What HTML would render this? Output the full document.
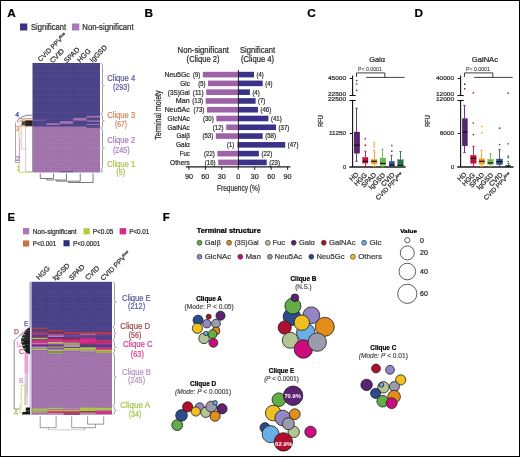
<!DOCTYPE html>
<html><head><meta charset="utf-8"><style>
html,body{margin:0;padding:0;background:#fff;}
body{width:520px;height:457px;overflow:hidden;}
svg{display:block;font-family:"Liberation Sans", sans-serif;}
.wrap{position:absolute;left:0;top:0;width:520px;height:457px;will-change:transform;}
</style></head><body>
<div class="wrap"><svg width="520" height="457" viewBox="0 0 520 457">
<rect x="0" y="0" width="520" height="457" fill="#fff"/>
<text x="7.3" y="17" font-size="11.8" fill="#000" stroke="#000" stroke-width="0.22" font-weight="bold" >A</text>
<text x="144.5" y="17" font-size="11.8" fill="#000" stroke="#000" stroke-width="0.22" font-weight="bold" >B</text>
<text x="307.3" y="17" font-size="11.8" fill="#000" stroke="#000" stroke-width="0.22" font-weight="bold" >C</text>
<text x="414.6" y="17" font-size="11.8" fill="#000" stroke="#000" stroke-width="0.22" font-weight="bold" >D</text>
<text x="7.5" y="220.8" font-size="11.3" fill="#000" stroke="#000" stroke-width="0.22" font-weight="bold" >E</text>
<text x="162.7" y="220.8" font-size="11.3" fill="#000" stroke="#000" stroke-width="0.22" font-weight="bold" >F</text>
<rect x="20" y="23.5" width="7.3" height="7" fill="#3b3288" />
<text x="31" y="29.8" font-size="8.5" fill="#2b2b2b" stroke="#2b2b2b" stroke-width="0.22" textLength="35" lengthAdjust="spacingAndGlyphs" >Significant</text>
<rect x="72" y="23.5" width="7.3" height="7" fill="#a878b8" />
<text x="82.3" y="29.8" font-size="8.5" fill="#2b2b2b" stroke="#2b2b2b" stroke-width="0.22" textLength="51.3" lengthAdjust="spacingAndGlyphs" >Non-significant</text>
<rect x="32.8" y="63" width="67.2" height="109.19999999999999" fill="#473f86" />
<rect x="32.8" y="126.5" width="67.2" height="45.69999999999999" fill="#a071aa" />
<rect x="32.8" y="119.8" width="13.440000000000001" height="0.7" fill="#a071aa" />
<rect x="46.239999999999995" y="123.2" width="13.440000000000001" height="1.8" fill="#a071aa" />
<rect x="59.68" y="121.1" width="13.440000000000001" height="2.8" fill="#a071aa" />
<rect x="73.12" y="117.9" width="13.440000000000001" height="2.8" fill="#a071aa" />
<rect x="86.56" y="115.8" width="13.440000000000001" height="1.8" fill="#a071aa" />
<rect x="86.56" y="120.4" width="13.440000000000001" height="1.4" fill="#a071aa" />
<rect x="86.56" y="123.9" width="13.440000000000001" height="1.1" fill="#a071aa" />
<rect x="86.56" y="126.5" width="13.440000000000001" height="1.3" fill="#473f86" />
<rect x="59.68" y="171.3" width="13.440000000000001" height="0.9" fill="#5a4f9a" />
<defs><pattern id="rowsA" x="0" y="0" width="10" height="2.4" patternUnits="userSpaceOnUse"><rect x="0" y="1.4" width="10" height="1" fill="#ffffff" opacity="0.06"/></pattern></defs>
<rect x="32.8" y="63" width="67.2" height="109.19999999999999" fill="url(#rowsA)" />
<line x1="46.24" y1="63" x2="46.24" y2="172.2" stroke="#000" stroke-width="0.5" opacity="0.06"/>
<line x1="59.68" y1="63" x2="59.68" y2="172.2" stroke="#000" stroke-width="0.5" opacity="0.06"/>
<line x1="73.12" y1="63" x2="73.12" y2="172.2" stroke="#000" stroke-width="0.5" opacity="0.06"/>
<line x1="86.56" y1="63" x2="86.56" y2="172.2" stroke="#000" stroke-width="0.5" opacity="0.06"/>
<line x1="32.5" y1="63" x2="32.5" y2="172.2" stroke="#8a8a8a" stroke-width="0.7" />
<text x="40.6" y="62" font-size="6.7" fill="#2b2b2b" stroke="#2b2b2b" stroke-width="0.22" transform="rotate(-45 40.6 62)" >CVID PPV<tspan font-size="4.1" dy="-2.5">low</tspan></text>
<text x="52.7" y="63.5" font-size="7.1" fill="#2b2b2b" stroke="#2b2b2b" stroke-width="0.22" transform="rotate(-45 52.7 63.5)" >CVID</text>
<text x="66.8" y="63.5" font-size="7.1" fill="#2b2b2b" stroke="#2b2b2b" stroke-width="0.22" transform="rotate(-45 66.8 63.5)" >SPAD</text>
<text x="80" y="62.9" font-size="7.1" fill="#2b2b2b" stroke="#2b2b2b" stroke-width="0.22" transform="rotate(-45 80 62.9)" >HGG</text>
<text x="92.5" y="63" font-size="7.1" fill="#2b2b2b" stroke="#2b2b2b" stroke-width="0.22" transform="rotate(-45 92.5 63)" >IgGSD</text>
<path d="M100.8,63.599999999999994 c1,0 1.7,0.5 1.7,1.7 V84.3 c0,0.8 0.6,1.2 1.8,1.2 c-1.2,0 -1.8,0.4 -1.8,1.2 V112 c0,1.2 -0.7,1.7 -1.7,1.7" stroke="#8c8c8c" stroke-width="0.85" fill="none" />
<path d="M100.8,114.5 c1,0 1.7,0.5 1.7,1.7 V119.6 c0,0.8 0.6,1.2 1.8,1.2 c-1.2,0 -1.8,0.4 -1.8,1.2 V126.30000000000001 c0,1.2 -0.7,1.7 -1.7,1.7" stroke="#8c8c8c" stroke-width="0.85" fill="none" />
<path d="M100.8,128.8 c1,0 1.7,0.5 1.7,1.7 V146.8 c0,0.8 0.6,1.2 1.8,1.2 c-1.2,0 -1.8,0.4 -1.8,1.2 V166.6 c0,1.2 -0.7,1.7 -1.7,1.7" stroke="#8c8c8c" stroke-width="0.85" fill="none" />
<path d="M100.8,169 c0.8,0 1.2,0.5 1.2,1.3 V171.5 c0,0.5 -0.4,0.7 -1.2,0.7" stroke="#666" stroke-width="0.8" fill="none" />
<text x="107.2" y="81" font-size="8.6" fill="#5b56a3" stroke="#5b56a3" stroke-width="0.22" textLength="28" lengthAdjust="spacingAndGlyphs" >Clique 4</text>
<text x="112.9" y="90.1" font-size="8.6" fill="#5b56a3" stroke="#5b56a3" stroke-width="0.22" textLength="16.7" lengthAdjust="spacingAndGlyphs" >(293)</text>
<text x="107.2" y="118.2" font-size="8.6" fill="#d0865c" stroke="#d0865c" stroke-width="0.22" textLength="28" lengthAdjust="spacingAndGlyphs" >Clique 3</text>
<text x="115" y="126.8" font-size="8.6" fill="#d0865c" stroke="#d0865c" stroke-width="0.22" textLength="12" lengthAdjust="spacingAndGlyphs" >(67)</text>
<text x="107.2" y="143.1" font-size="8.6" fill="#a57bbd" stroke="#a57bbd" stroke-width="0.22" textLength="28" lengthAdjust="spacingAndGlyphs" >Clique 2</text>
<text x="112.9" y="152.7" font-size="8.6" fill="#a57bbd" stroke="#a57bbd" stroke-width="0.22" textLength="16.7" lengthAdjust="spacingAndGlyphs" >(245)</text>
<text x="107.2" y="166.6" font-size="8.6" fill="#aac24a" stroke="#aac24a" stroke-width="0.22" textLength="28" lengthAdjust="spacingAndGlyphs" >Clique 1</text>
<text x="116.3" y="174.7" font-size="8.6" fill="#aac24a" stroke="#aac24a" stroke-width="0.22" textLength="9" lengthAdjust="spacingAndGlyphs" >(5)</text>
<path d="M19.4,138.5 V162.6" stroke="#a070c0" stroke-width="0.7" fill="none" />
<path d="M25.6,149 V171.5 H32.6" stroke="#c8aedc" stroke-width="0.7" fill="none" />
<path d="M19,124 V138.5" stroke="#dca887" stroke-width="0.7" fill="none" />
<path d="M21.2,124 V149 H25.6 V124" stroke="#dca887" stroke-width="0.7" fill="none" />
<path d="M15.5,122.5 V162.6 H19" stroke="#888" stroke-width="0.75" fill="none" />
<path d="M19,162.6 V172.2 H32.6" stroke="#b7cf3f" stroke-width="0.8" fill="none" />
<rect x="21.6" y="121.2" width="3.6" height="4.2" fill="#4a4a4a" />
<rect x="25.2" y="120.2" width="7.4" height="6.0" fill="#1a1a1a" />
<line x1="19.5" y1="118.6" x2="32.6" y2="118.6" stroke="#d8935f" stroke-width="0.7" />
<line x1="19.5" y1="120.2" x2="32.6" y2="120.2" stroke="#d8935f" stroke-width="0.7" />
<line x1="19.5" y1="126.2" x2="32.6" y2="126.2" stroke="#d8935f" stroke-width="0.7" />
<line x1="25.2" y1="123.3" x2="32.6" y2="123.3" stroke="#6b4a3a" stroke-width="0.5" />
<path d="M32.6,118.6 H26 L24.5,119.6 H22.5 L21,121 H19.5 L18.2,123.2" stroke="#d8935f" stroke-width="0.7" fill="none" />
<path d="M32.6,115.3 H25.6 L24,116.6 H22.4 L20.8,118.2 H19.3 L17.3,120.8 V122" stroke="#4f46a0" stroke-width="0.75" fill="none" />
<text x="15.2" y="117" font-size="7.0" fill="#4f46a0" stroke="#4f46a0" stroke-width="0.25" >4</text>
<text x="15.4" y="130.6" font-size="6.6" fill="#d0865c" stroke="#d0865c" stroke-width="0.15" >3</text>
<text x="15.8" y="161.3" font-size="7.4" fill="#9a6ab5" stroke="#9a6ab5" stroke-width="0.2" >2</text>
<text x="16.4" y="171" font-size="6.6" fill="#aac24a" stroke="#aac24a" stroke-width="0.15" >1</text>
<path d="M40.25,173.5 V178.5 H53.5 V173.5 M46.9,178.5 V180 H66.5 V173.5 M56.7,180 V181.2 H80.25 V173.5 M68.5,181.2 V182.5 H93.1 V173.5" stroke="#444" stroke-width="0.7" fill="none" />
<text x="177.6" y="53.2" font-size="8.4" fill="#2b2b2b" stroke="#2b2b2b" stroke-width="0.22" textLength="51.3" lengthAdjust="spacingAndGlyphs" >Non-significant</text>
<text x="186.6" y="62" font-size="8.4" fill="#2b2b2b" stroke="#2b2b2b" stroke-width="0.22" textLength="33" lengthAdjust="spacingAndGlyphs" >(Clique 2)</text>
<text x="240" y="53.2" font-size="8.4" fill="#2b2b2b" stroke="#2b2b2b" stroke-width="0.22" textLength="35" lengthAdjust="spacingAndGlyphs" >Significant</text>
<text x="241" y="62" font-size="8.4" fill="#2b2b2b" stroke="#2b2b2b" stroke-width="0.22" textLength="33" lengthAdjust="spacingAndGlyphs" >(Clique 4)</text>
<rect x="202.8" y="71.8" width="35.599999999999994" height="5.6" fill="#9e62a8" />
<rect x="238.4" y="71.8" width="15.599999999999994" height="5.6" fill="#3a3288" />
<text x="189.8" y="77.0" font-size="7.1" fill="#2b2b2b" stroke="#2b2b2b" stroke-width="0.22" text-anchor="end" textLength="25.4" lengthAdjust="spacingAndGlyphs" >Neu5Gc</text>
<text x="200.20000000000002" y="77.0" font-size="7.1" fill="#2b2b2b" stroke="#2b2b2b" stroke-width="0.22" text-anchor="end" textLength="7.2" lengthAdjust="spacingAndGlyphs" >(9)</text>
<text x="256.5" y="77.0" font-size="7.1" fill="#2b2b2b" stroke="#2b2b2b" stroke-width="0.22" textLength="7.2" lengthAdjust="spacingAndGlyphs" >(4)</text>
<rect x="208.0" y="80.58" width="30.400000000000006" height="5.6" fill="#9e62a8" />
<rect x="238.4" y="80.58" width="24.299999999999983" height="5.6" fill="#3a3288" />
<text x="189.8" y="85.78" font-size="7.1" fill="#2b2b2b" stroke="#2b2b2b" stroke-width="0.22" text-anchor="end" textLength="9.5" lengthAdjust="spacingAndGlyphs" >Glc</text>
<text x="205.4" y="85.78" font-size="7.1" fill="#2b2b2b" stroke="#2b2b2b" stroke-width="0.22" text-anchor="end" textLength="7.2" lengthAdjust="spacingAndGlyphs" >(5)</text>
<text x="265.2" y="85.78" font-size="7.1" fill="#2b2b2b" stroke="#2b2b2b" stroke-width="0.22" textLength="7.2" lengthAdjust="spacingAndGlyphs" >(4)</text>
<rect x="206.2" y="89.36" width="32.20000000000002" height="5.6" fill="#9e62a8" />
<rect x="238.4" y="89.36" width="11.5" height="5.6" fill="#3a3288" />
<text x="189.8" y="94.56" font-size="7.1" fill="#2b2b2b" stroke="#2b2b2b" stroke-width="0.22" text-anchor="end" textLength="22" lengthAdjust="spacingAndGlyphs" >(3S)Gal</text>
<text x="203.6" y="94.56" font-size="7.1" fill="#2b2b2b" stroke="#2b2b2b" stroke-width="0.22" text-anchor="end" textLength="10.8" lengthAdjust="spacingAndGlyphs" >(11)</text>
<text x="252.4" y="94.56" font-size="7.1" fill="#2b2b2b" stroke="#2b2b2b" stroke-width="0.22" textLength="7.2" lengthAdjust="spacingAndGlyphs" >(4)</text>
<rect x="205.7" y="98.14" width="32.70000000000002" height="5.6" fill="#9e62a8" />
<rect x="238.4" y="98.14" width="17.19999999999999" height="5.6" fill="#3a3288" />
<text x="189.8" y="103.34" font-size="7.1" fill="#2b2b2b" stroke="#2b2b2b" stroke-width="0.22" text-anchor="end" textLength="14" lengthAdjust="spacingAndGlyphs" >Man</text>
<text x="203.1" y="103.34" font-size="7.1" fill="#2b2b2b" stroke="#2b2b2b" stroke-width="0.22" text-anchor="end" textLength="10.8" lengthAdjust="spacingAndGlyphs" >(13)</text>
<text x="258.1" y="103.34" font-size="7.1" fill="#2b2b2b" stroke="#2b2b2b" stroke-width="0.22" textLength="7.2" lengthAdjust="spacingAndGlyphs" >(7)</text>
<rect x="207.0" y="106.92" width="31.400000000000006" height="5.6" fill="#9e62a8" />
<rect x="238.4" y="106.92" width="19.49999999999997" height="5.6" fill="#3a3288" />
<text x="189.8" y="112.12" font-size="7.1" fill="#2b2b2b" stroke="#2b2b2b" stroke-width="0.22" text-anchor="end" textLength="25" lengthAdjust="spacingAndGlyphs" >Neu5Ac</text>
<text x="204.4" y="112.12" font-size="7.1" fill="#2b2b2b" stroke="#2b2b2b" stroke-width="0.22" text-anchor="end" textLength="10.8" lengthAdjust="spacingAndGlyphs" >(73)</text>
<text x="260.4" y="112.12" font-size="7.1" fill="#2b2b2b" stroke="#2b2b2b" stroke-width="0.22" textLength="10.8" lengthAdjust="spacingAndGlyphs" >(46)</text>
<rect x="216.3" y="115.7" width="22.099999999999994" height="5.6" fill="#9e62a8" />
<rect x="238.4" y="115.7" width="29.99999999999997" height="5.6" fill="#3a3288" />
<text x="189.8" y="120.9" font-size="7.1" fill="#2b2b2b" stroke="#2b2b2b" stroke-width="0.22" text-anchor="end" textLength="22.2" lengthAdjust="spacingAndGlyphs" >GlcNAc</text>
<text x="213.70000000000002" y="120.9" font-size="7.1" fill="#2b2b2b" stroke="#2b2b2b" stroke-width="0.22" text-anchor="end" textLength="10.8" lengthAdjust="spacingAndGlyphs" >(30)</text>
<text x="270.9" y="120.9" font-size="7.1" fill="#2b2b2b" stroke="#2b2b2b" stroke-width="0.22" textLength="10.8" lengthAdjust="spacingAndGlyphs" >(41)</text>
<rect x="226.2" y="124.47999999999999" width="12.200000000000017" height="5.6" fill="#9e62a8" />
<rect x="238.4" y="124.47999999999999" width="37.599999999999994" height="5.6" fill="#3a3288" />
<text x="189.8" y="129.67999999999998" font-size="7.1" fill="#2b2b2b" stroke="#2b2b2b" stroke-width="0.22" text-anchor="end" textLength="22.2" lengthAdjust="spacingAndGlyphs" >GalNAc</text>
<text x="223.6" y="129.67999999999998" font-size="7.1" fill="#2b2b2b" stroke="#2b2b2b" stroke-width="0.22" text-anchor="end" textLength="10.8" lengthAdjust="spacingAndGlyphs" >(12)</text>
<text x="278.5" y="129.67999999999998" font-size="7.1" fill="#2b2b2b" stroke="#2b2b2b" stroke-width="0.22" textLength="10.8" lengthAdjust="spacingAndGlyphs" >(37)</text>
<rect x="215.8" y="133.26" width="22.599999999999994" height="5.6" fill="#9e62a8" />
<rect x="238.4" y="133.26" width="24.299999999999983" height="5.6" fill="#3a3288" />
<text x="189.8" y="138.46" font-size="7.1" fill="#2b2b2b" stroke="#2b2b2b" stroke-width="0.22" text-anchor="end" textLength="13.4" lengthAdjust="spacingAndGlyphs" >Gal&#946;</text>
<text x="213.20000000000002" y="138.46" font-size="7.1" fill="#2b2b2b" stroke="#2b2b2b" stroke-width="0.22" text-anchor="end" textLength="10.8" lengthAdjust="spacingAndGlyphs" >(53)</text>
<text x="265.2" y="138.46" font-size="7.1" fill="#2b2b2b" stroke="#2b2b2b" stroke-width="0.22" textLength="10.8" lengthAdjust="spacingAndGlyphs" >(58)</text>
<rect x="237.3" y="142.03999999999996" width="1.0999999999999943" height="5.6" fill="#9e62a8" />
<rect x="238.4" y="142.03999999999996" width="46.79999999999998" height="5.6" fill="#3a3288" />
<text x="189.8" y="147.23999999999998" font-size="7.1" fill="#2b2b2b" stroke="#2b2b2b" stroke-width="0.22" text-anchor="end" textLength="13.8" lengthAdjust="spacingAndGlyphs" >Gal&#945;</text>
<text x="234.3" y="147.23999999999998" font-size="7.1" fill="#2b2b2b" stroke="#2b2b2b" stroke-width="0.22" text-anchor="end" textLength="7.2" lengthAdjust="spacingAndGlyphs" >(1)</text>
<text x="287.7" y="147.23999999999998" font-size="7.1" fill="#2b2b2b" stroke="#2b2b2b" stroke-width="0.22" textLength="10.8" lengthAdjust="spacingAndGlyphs" >(47)</text>
<rect x="217.4" y="150.82" width="21.0" height="5.6" fill="#9e62a8" />
<rect x="238.4" y="150.82" width="20.49999999999997" height="5.6" fill="#3a3288" />
<text x="189.8" y="156.02" font-size="7.1" fill="#2b2b2b" stroke="#2b2b2b" stroke-width="0.22" text-anchor="end" textLength="10" lengthAdjust="spacingAndGlyphs" >Fuc</text>
<text x="214.8" y="156.02" font-size="7.1" fill="#2b2b2b" stroke="#2b2b2b" stroke-width="0.22" text-anchor="end" textLength="10.8" lengthAdjust="spacingAndGlyphs" >(22)</text>
<text x="261.4" y="156.02" font-size="7.1" fill="#2b2b2b" stroke="#2b2b2b" stroke-width="0.22" textLength="10.8" lengthAdjust="spacingAndGlyphs" >(22)</text>
<rect x="218.2" y="159.59999999999997" width="20.200000000000017" height="5.6" fill="#9e62a8" />
<rect x="238.4" y="159.59999999999997" width="28.299999999999983" height="5.6" fill="#3a3288" />
<text x="189.8" y="164.79999999999998" font-size="7.1" fill="#2b2b2b" stroke="#2b2b2b" stroke-width="0.22" text-anchor="end" textLength="19.7" lengthAdjust="spacingAndGlyphs" >Others</text>
<text x="215.6" y="164.79999999999998" font-size="7.1" fill="#2b2b2b" stroke="#2b2b2b" stroke-width="0.22" text-anchor="end" textLength="10.8" lengthAdjust="spacingAndGlyphs" >(16)</text>
<text x="269.2" y="164.79999999999998" font-size="7.1" fill="#2b2b2b" stroke="#2b2b2b" stroke-width="0.22" textLength="10.8" lengthAdjust="spacingAndGlyphs" >(23)</text>
<line x1="238.4" y1="70" x2="238.4" y2="167" stroke="#111" stroke-width="0.9" />
<line x1="185.8" y1="166.9" x2="290.4" y2="166.9" stroke="#1a1a1a" stroke-width="1.3" />
<line x1="188.9" y1="166.9" x2="188.9" y2="169.8" stroke="#1a1a1a" stroke-width="1.0" />
<text x="188.9" y="178.6" font-size="7.2" fill="#2b2b2b" stroke="#2b2b2b" stroke-width="0.22" text-anchor="middle" >90</text>
<line x1="205.35" y1="166.9" x2="205.35" y2="169.8" stroke="#1a1a1a" stroke-width="1.0" />
<text x="205.35" y="178.6" font-size="7.2" fill="#2b2b2b" stroke="#2b2b2b" stroke-width="0.22" text-anchor="middle" >60</text>
<line x1="221.8" y1="166.9" x2="221.8" y2="169.8" stroke="#1a1a1a" stroke-width="1.0" />
<text x="221.8" y="178.6" font-size="7.2" fill="#2b2b2b" stroke="#2b2b2b" stroke-width="0.22" text-anchor="middle" >30</text>
<line x1="238.25" y1="166.9" x2="238.25" y2="169.8" stroke="#1a1a1a" stroke-width="1.0" />
<text x="238.25" y="178.6" font-size="7.2" fill="#2b2b2b" stroke="#2b2b2b" stroke-width="0.22" text-anchor="middle" >0</text>
<line x1="254.7" y1="166.9" x2="254.7" y2="169.8" stroke="#1a1a1a" stroke-width="1.0" />
<text x="254.7" y="178.6" font-size="7.2" fill="#2b2b2b" stroke="#2b2b2b" stroke-width="0.22" text-anchor="middle" >30</text>
<line x1="271.15" y1="166.9" x2="271.15" y2="169.8" stroke="#1a1a1a" stroke-width="1.0" />
<text x="271.15" y="178.6" font-size="7.2" fill="#2b2b2b" stroke="#2b2b2b" stroke-width="0.22" text-anchor="middle" >60</text>
<line x1="287.6" y1="166.9" x2="287.6" y2="169.8" stroke="#1a1a1a" stroke-width="1.0" />
<text x="287.6" y="178.6" font-size="7.2" fill="#2b2b2b" stroke="#2b2b2b" stroke-width="0.22" text-anchor="middle" >90</text>
<text x="217" y="191.2" font-size="9.5" fill="#2b2b2b" stroke="#2b2b2b" stroke-width="0.22" textLength="43" lengthAdjust="spacingAndGlyphs" >Frequency (%)</text>
<text x="160.7" y="139.7" font-size="9.0" fill="#2b2b2b" stroke="#2b2b2b" stroke-width="0.25" textLength="49.3" lengthAdjust="spacingAndGlyphs" transform="rotate(-90 160.7 139.7)" >Terminal moiety</text>
<text x="369.2" y="62.3" font-size="6.6" fill="#2b2b2b" stroke="#2b2b2b" stroke-width="0.22" textLength="15.8" lengthAdjust="spacingAndGlyphs" >Gal&#945;</text>
<text x="358.0" y="71" font-size="4.6" fill="#2b2b2b" stroke="#2b2b2b" stroke-width="0.05" textLength="23.8" lengthAdjust="spacingAndGlyphs" >P&lt; 0.0001</text>
<path d="M356.5,77 V72.9 H384.8 V77.4" stroke="#111" stroke-width="0.8" fill="none" />
<line x1="366.1" y1="77.4" x2="404.6" y2="77.4" stroke="#111" stroke-width="0.8" />
<line x1="352.6" y1="75.4" x2="352.6" y2="95.5" stroke="#111" stroke-width="1.1" />
<line x1="349.8" y1="78.5" x2="352.6" y2="78.5" stroke="#111" stroke-width="1.0" />
<line x1="349.5" y1="95.5" x2="355.70000000000005" y2="95.5" stroke="#111" stroke-width="1.0" />
<line x1="349.5" y1="100.5" x2="355.70000000000005" y2="100.5" stroke="#111" stroke-width="1.0" />
<line x1="352.6" y1="100.5" x2="352.6" y2="167" stroke="#111" stroke-width="1.1" />
<line x1="349.8" y1="133.5" x2="352.6" y2="133.5" stroke="#111" stroke-width="1.0" />
<line x1="349.3" y1="167" x2="405.6" y2="167" stroke="#1a1a1a" stroke-width="1.4" />
<text x="346.1" y="79.9" font-size="6.2" fill="#2b2b2b" stroke="#2b2b2b" stroke-width="0.22" text-anchor="end" textLength="18.1" lengthAdjust="spacingAndGlyphs" >45000</text>
<text x="346.1" y="96.4" font-size="6.2" fill="#2b2b2b" stroke="#2b2b2b" stroke-width="0.22" text-anchor="end" textLength="18.1" lengthAdjust="spacingAndGlyphs" >22500</text>
<text x="346.1" y="101.4" font-size="6.2" fill="#2b2b2b" stroke="#2b2b2b" stroke-width="0.22" text-anchor="end" textLength="18.1" lengthAdjust="spacingAndGlyphs" >22500</text>
<text x="346.1" y="135.4" font-size="6.2" fill="#2b2b2b" stroke="#2b2b2b" stroke-width="0.22" text-anchor="end" textLength="17.2" lengthAdjust="spacingAndGlyphs" >11250</text>
<text x="346.1" y="169.2" font-size="6.2" fill="#2b2b2b" stroke="#2b2b2b" stroke-width="0.22" text-anchor="end" textLength="3.2" lengthAdjust="spacingAndGlyphs" >0</text>
<text x="323.1" y="121" font-size="6.4" fill="#2b2b2b" stroke="#2b2b2b" stroke-width="0.22" text-anchor="middle" textLength="11.6" lengthAdjust="spacingAndGlyphs" transform="rotate(-90 323.1 121)" >RFU</text>
<line x1="356.5" y1="108.2" x2="356.5" y2="132.0" stroke="#55256d" stroke-width="0.9" />
<line x1="356.5" y1="153.3" x2="356.5" y2="161.3" stroke="#55256d" stroke-width="0.9" />
<line x1="355.2" y1="108.2" x2="357.8" y2="108.2" stroke="#55256d" stroke-width="0.8" />
<line x1="355.2" y1="161.3" x2="357.8" y2="161.3" stroke="#55256d" stroke-width="0.8" />
<rect x="354.1" y="132.0" width="5.699999999999989" height="21.30000000000001" fill="#55256d" stroke="#55256d" stroke-width="0.3"/>
<line x1="354.1" y1="145.2" x2="359.8" y2="145.2" stroke="#111" stroke-width="1.2" />
<line x1="365.5" y1="151.2" x2="365.5" y2="157.3" stroke="#c0123e" stroke-width="0.9" />
<line x1="365.5" y1="163.1" x2="365.5" y2="166.5" stroke="#c0123e" stroke-width="0.9" />
<line x1="364.2" y1="151.2" x2="366.8" y2="151.2" stroke="#c0123e" stroke-width="0.8" />
<line x1="364.2" y1="166.5" x2="366.8" y2="166.5" stroke="#c0123e" stroke-width="0.8" />
<rect x="362.6" y="157.3" width="5.399999999999977" height="5.799999999999983" fill="#c0123e" stroke="#c0123e" stroke-width="0.3"/>
<line x1="362.6" y1="161.3" x2="368.0" y2="161.3" stroke="#111" stroke-width="1.2" />
<line x1="374.5" y1="152.0" x2="374.5" y2="159.3" stroke="#f0a020" stroke-width="0.9" />
<line x1="374.5" y1="164.0" x2="374.5" y2="166.5" stroke="#f0a020" stroke-width="0.9" />
<line x1="373.2" y1="152.0" x2="375.8" y2="152.0" stroke="#f0a020" stroke-width="0.8" />
<line x1="373.2" y1="166.5" x2="375.8" y2="166.5" stroke="#f0a020" stroke-width="0.8" />
<rect x="371.2" y="159.3" width="5.800000000000011" height="4.699999999999989" fill="#f0a020" stroke="#f0a020" stroke-width="0.3"/>
<line x1="371.2" y1="161.3" x2="377.0" y2="161.3" stroke="#111" stroke-width="1.2" />
<line x1="382.5" y1="149.2" x2="382.5" y2="158.0" stroke="#6cbc48" stroke-width="0.9" />
<line x1="382.5" y1="165.5" x2="382.5" y2="166.8" stroke="#6cbc48" stroke-width="0.9" />
<line x1="381.2" y1="149.2" x2="383.8" y2="149.2" stroke="#6cbc48" stroke-width="0.8" />
<line x1="381.2" y1="166.8" x2="383.8" y2="166.8" stroke="#6cbc48" stroke-width="0.8" />
<rect x="380.0" y="158.0" width="5.800000000000011" height="7.5" fill="#6cbc48" stroke="#6cbc48" stroke-width="0.3"/>
<line x1="380.0" y1="163.4" x2="385.8" y2="163.4" stroke="#111" stroke-width="1.2" />
<line x1="391.5" y1="155.3" x2="391.5" y2="161.3" stroke="#2f4f92" stroke-width="0.9" />
<line x1="391.5" y1="166.5" x2="391.5" y2="166.8" stroke="#2f4f92" stroke-width="0.9" />
<line x1="390.2" y1="155.3" x2="392.8" y2="155.3" stroke="#2f4f92" stroke-width="0.8" />
<line x1="390.2" y1="166.8" x2="392.8" y2="166.8" stroke="#2f4f92" stroke-width="0.8" />
<rect x="389.1" y="161.3" width="5.399999999999977" height="5.199999999999989" fill="#2f4f92" stroke="#2f4f92" stroke-width="0.3"/>
<line x1="389.1" y1="165.0" x2="394.5" y2="165.0" stroke="#111" stroke-width="1.2" />
<line x1="400.5" y1="151.6" x2="400.5" y2="159.7" stroke="#2e6e4c" stroke-width="0.9" />
<line x1="400.5" y1="166.5" x2="400.5" y2="166.8" stroke="#2e6e4c" stroke-width="0.9" />
<line x1="399.2" y1="151.6" x2="401.8" y2="151.6" stroke="#2e6e4c" stroke-width="0.8" />
<line x1="399.2" y1="166.8" x2="401.8" y2="166.8" stroke="#2e6e4c" stroke-width="0.8" />
<rect x="397.6" y="159.7" width="5.699999999999989" height="6.800000000000011" fill="#2e6e4c" stroke="#2e6e4c" stroke-width="0.3"/>
<line x1="397.6" y1="165.4" x2="403.3" y2="165.4" stroke="#111" stroke-width="1.2" />
<circle cx="356.6" cy="80.5" r="0.85" fill="#55256d"/>
<circle cx="356.6" cy="84.0" r="0.85" fill="#55256d"/>
<circle cx="356.6" cy="90.3" r="0.85" fill="#55256d"/>
<circle cx="365.3" cy="138.7" r="0.85" fill="#c0123e"/>
<circle cx="365.3" cy="145.2" r="0.85" fill="#c0123e"/>
<circle cx="374.1" cy="142.5" r="0.85" fill="#f0a020"/>
<circle cx="374.1" cy="144.3" r="0.85" fill="#f0a020"/>
<circle cx="374.1" cy="146.5" r="0.85" fill="#f0a020"/>
<circle cx="374.1" cy="150.3" r="0.85" fill="#f0a020"/>
<circle cx="391.8" cy="145.5" r="0.85" fill="#2f4f92"/>
<circle cx="391.8" cy="151.2" r="0.85" fill="#2f4f92"/>
<text x="358.9" y="174.9" font-size="6.8" fill="#2b2b2b" stroke="#2b2b2b" stroke-width="0.22" text-anchor="end" transform="rotate(-45 358.9 174.9)" >HD</text>
<text x="367.6" y="175.6" font-size="6.8" fill="#2b2b2b" stroke="#2b2b2b" stroke-width="0.22" text-anchor="end" transform="rotate(-45 367.6 175.6)" >HGG</text>
<text x="376.7" y="175.2" font-size="6.8" fill="#2b2b2b" stroke="#2b2b2b" stroke-width="0.22" text-anchor="end" transform="rotate(-45 376.7 175.2)" >SPAD</text>
<text x="385.8" y="175.6" font-size="6.8" fill="#2b2b2b" stroke="#2b2b2b" stroke-width="0.22" text-anchor="end" transform="rotate(-45 385.8 175.6)" >IgGSD</text>
<text x="395.2" y="175.2" font-size="6.8" fill="#2b2b2b" stroke="#2b2b2b" stroke-width="0.22" text-anchor="end" transform="rotate(-45 395.2 175.2)" >CVID</text>
<text x="403.5" y="175.2" font-size="6.4" fill="#2b2b2b" stroke="#2b2b2b" stroke-width="0.22" text-anchor="end" transform="rotate(-45 403.5 175.2)" >CVID PPV<tspan font-size="4" dy="-2.5">low</tspan></text>
<text x="471.8" y="62.3" font-size="6.6" fill="#2b2b2b" stroke="#2b2b2b" stroke-width="0.22" textLength="26.2" lengthAdjust="spacingAndGlyphs" >GalNAc</text>
<text x="466.0" y="71" font-size="4.6" fill="#2b2b2b" stroke="#2b2b2b" stroke-width="0.05" textLength="23.8" lengthAdjust="spacingAndGlyphs" >P&lt; 0.0001</text>
<path d="M464.5,77 V72.9 H492.8 V77.4" stroke="#111" stroke-width="0.8" fill="none" />
<line x1="474.1" y1="77.4" x2="512.6" y2="77.4" stroke="#111" stroke-width="0.8" />
<line x1="460.6" y1="75.4" x2="460.6" y2="95.5" stroke="#111" stroke-width="1.1" />
<line x1="457.8" y1="78.5" x2="460.6" y2="78.5" stroke="#111" stroke-width="1.0" />
<line x1="457.5" y1="95.5" x2="463.70000000000005" y2="95.5" stroke="#111" stroke-width="1.0" />
<line x1="457.5" y1="100.5" x2="463.70000000000005" y2="100.5" stroke="#111" stroke-width="1.0" />
<line x1="460.6" y1="100.5" x2="460.6" y2="167" stroke="#111" stroke-width="1.1" />
<line x1="457.8" y1="133.5" x2="460.6" y2="133.5" stroke="#111" stroke-width="1.0" />
<line x1="457.3" y1="167" x2="513.6" y2="167" stroke="#1a1a1a" stroke-width="1.4" />
<text x="454.1" y="79.9" font-size="6.2" fill="#2b2b2b" stroke="#2b2b2b" stroke-width="0.22" text-anchor="end" textLength="18.1" lengthAdjust="spacingAndGlyphs" >40000</text>
<text x="454.1" y="96.4" font-size="6.2" fill="#2b2b2b" stroke="#2b2b2b" stroke-width="0.22" text-anchor="end" textLength="18.1" lengthAdjust="spacingAndGlyphs" >12000</text>
<text x="454.1" y="101.4" font-size="6.2" fill="#2b2b2b" stroke="#2b2b2b" stroke-width="0.22" text-anchor="end" textLength="18.1" lengthAdjust="spacingAndGlyphs" >12000</text>
<text x="454.1" y="135.4" font-size="6.2" fill="#2b2b2b" stroke="#2b2b2b" stroke-width="0.22" text-anchor="end" textLength="14.3" lengthAdjust="spacingAndGlyphs" >6000</text>
<text x="454.1" y="169.2" font-size="6.2" fill="#2b2b2b" stroke="#2b2b2b" stroke-width="0.22" text-anchor="end" textLength="3.2" lengthAdjust="spacingAndGlyphs" >0</text>
<text x="429.90000000000003" y="121" font-size="6.4" fill="#2b2b2b" stroke="#2b2b2b" stroke-width="0.22" text-anchor="middle" textLength="11.6" lengthAdjust="spacingAndGlyphs" transform="rotate(-90 429.90000000000003 121)" >RFU</text>
<line x1="464.5" y1="105.4" x2="464.5" y2="118.5" stroke="#55256d" stroke-width="0.9" />
<line x1="464.5" y1="145.9" x2="464.5" y2="152.6" stroke="#55256d" stroke-width="0.9" />
<line x1="463.2" y1="105.4" x2="465.8" y2="105.4" stroke="#55256d" stroke-width="0.8" />
<line x1="463.2" y1="152.6" x2="465.8" y2="152.6" stroke="#55256d" stroke-width="0.8" />
<rect x="462.2" y="118.5" width="5.300000000000011" height="27.400000000000006" fill="#55256d" stroke="#55256d" stroke-width="0.3"/>
<line x1="462.2" y1="132.2" x2="467.5" y2="132.2" stroke="#111" stroke-width="1.2" />
<line x1="473.5" y1="146.3" x2="473.5" y2="155.3" stroke="#c0123e" stroke-width="0.9" />
<line x1="473.5" y1="163.4" x2="473.5" y2="166.5" stroke="#c0123e" stroke-width="0.9" />
<line x1="472.2" y1="146.3" x2="474.8" y2="146.3" stroke="#c0123e" stroke-width="0.8" />
<line x1="472.2" y1="166.5" x2="474.8" y2="166.5" stroke="#c0123e" stroke-width="0.8" />
<rect x="470.5" y="155.3" width="5.699999999999989" height="8.099999999999994" fill="#c0123e" stroke="#c0123e" stroke-width="0.3"/>
<line x1="470.5" y1="158.4" x2="476.2" y2="158.4" stroke="#111" stroke-width="1.2" />
<line x1="481.5" y1="150.3" x2="481.5" y2="158.6" stroke="#f0a020" stroke-width="0.9" />
<line x1="481.5" y1="164.3" x2="481.5" y2="166.5" stroke="#f0a020" stroke-width="0.9" />
<line x1="480.2" y1="150.3" x2="482.8" y2="150.3" stroke="#f0a020" stroke-width="0.8" />
<line x1="480.2" y1="166.5" x2="482.8" y2="166.5" stroke="#f0a020" stroke-width="0.8" />
<rect x="479.0" y="158.6" width="5.699999999999989" height="5.700000000000017" fill="#f0a020" stroke="#f0a020" stroke-width="0.3"/>
<line x1="479.0" y1="161.3" x2="484.7" y2="161.3" stroke="#111" stroke-width="1.2" />
<line x1="490.5" y1="153.7" x2="490.5" y2="159.3" stroke="#6cbc48" stroke-width="0.9" />
<line x1="490.5" y1="164.3" x2="490.5" y2="166.5" stroke="#6cbc48" stroke-width="0.9" />
<line x1="489.2" y1="153.7" x2="491.8" y2="153.7" stroke="#6cbc48" stroke-width="0.8" />
<line x1="489.2" y1="166.5" x2="491.8" y2="166.5" stroke="#6cbc48" stroke-width="0.8" />
<rect x="487.7" y="159.3" width="5.600000000000023" height="5.0" fill="#6cbc48" stroke="#6cbc48" stroke-width="0.3"/>
<line x1="487.7" y1="163.0" x2="493.3" y2="163.0" stroke="#111" stroke-width="1.2" />
<line x1="499.5" y1="149.6" x2="499.5" y2="159.0" stroke="#2f4f92" stroke-width="0.9" />
<line x1="499.5" y1="164.7" x2="499.5" y2="166.5" stroke="#2f4f92" stroke-width="0.9" />
<line x1="498.2" y1="149.6" x2="500.8" y2="149.6" stroke="#2f4f92" stroke-width="0.8" />
<line x1="498.2" y1="166.5" x2="500.8" y2="166.5" stroke="#2f4f92" stroke-width="0.8" />
<rect x="496.4" y="159.0" width="6.100000000000023" height="5.699999999999989" fill="#2f4f92" stroke="#2f4f92" stroke-width="0.3"/>
<line x1="496.4" y1="161.6" x2="502.5" y2="161.6" stroke="#111" stroke-width="1.2" />
<line x1="508.5" y1="163.6" x2="508.5" y2="165.4" stroke="#2e6e4c" stroke-width="0.9" />
<line x1="508.5" y1="166.6" x2="508.5" y2="166.6" stroke="#2e6e4c" stroke-width="0.9" />
<line x1="507.2" y1="163.6" x2="509.8" y2="163.6" stroke="#2e6e4c" stroke-width="0.8" />
<line x1="507.2" y1="166.6" x2="509.8" y2="166.6" stroke="#2e6e4c" stroke-width="0.8" />
<rect x="505.6" y="165.4" width="5.0" height="1.1999999999999886" fill="#2e6e4c" stroke="#2e6e4c" stroke-width="0.3"/>
<line x1="505.6" y1="166.2" x2="510.6" y2="166.2" stroke="#111" stroke-width="1.2" />
<circle cx="464.8" cy="84.2" r="0.85" fill="#55256d"/>
<circle cx="464.8" cy="88.8" r="0.85" fill="#55256d"/>
<circle cx="473.3" cy="92.8" r="0.85" fill="#c0123e"/>
<circle cx="473.3" cy="123.0" r="0.85" fill="#c0123e"/>
<circle cx="473.3" cy="134.6" r="0.85" fill="#c0123e"/>
<circle cx="481.8" cy="126.5" r="0.85" fill="#f0a020"/>
<circle cx="481.8" cy="132.8" r="0.85" fill="#f0a020"/>
<circle cx="499.6" cy="128.2" r="0.85" fill="#2f4f92"/>
<circle cx="499.6" cy="144.5" r="0.85" fill="#2f4f92"/>
<circle cx="508.2" cy="93.2" r="0.85" fill="#2e6e4c"/>
<circle cx="508.2" cy="143.8" r="0.85" fill="#2e6e4c"/>
<circle cx="508.2" cy="156.0" r="0.85" fill="#2e6e4c"/>
<circle cx="508.2" cy="157.4" r="0.85" fill="#2e6e4c"/>
<circle cx="508.2" cy="161.5" r="0.85" fill="#2e6e4c"/>
<text x="466.9" y="174.9" font-size="6.8" fill="#2b2b2b" stroke="#2b2b2b" stroke-width="0.22" text-anchor="end" transform="rotate(-45 466.9 174.9)" >HD</text>
<text x="475.6" y="175.6" font-size="6.8" fill="#2b2b2b" stroke="#2b2b2b" stroke-width="0.22" text-anchor="end" transform="rotate(-45 475.6 175.6)" >HGG</text>
<text x="484.7" y="175.2" font-size="6.8" fill="#2b2b2b" stroke="#2b2b2b" stroke-width="0.22" text-anchor="end" transform="rotate(-45 484.7 175.2)" >SPAD</text>
<text x="493.8" y="175.6" font-size="6.8" fill="#2b2b2b" stroke="#2b2b2b" stroke-width="0.22" text-anchor="end" transform="rotate(-45 493.8 175.6)" >IgGSD</text>
<text x="503.2" y="175.2" font-size="6.8" fill="#2b2b2b" stroke="#2b2b2b" stroke-width="0.22" text-anchor="end" transform="rotate(-45 503.2 175.2)" >CVID</text>
<text x="511.5" y="175.2" font-size="6.4" fill="#2b2b2b" stroke="#2b2b2b" stroke-width="0.22" text-anchor="end" transform="rotate(-45 511.5 175.2)" >CVID PPV<tspan font-size="4" dy="-2.5">low</tspan></text>
<rect x="23" y="228" width="6.2" height="6.4" fill="#a878b8" />
<text x="32.8" y="234" font-size="7.1" fill="#2b2b2b" stroke="#2b2b2b" stroke-width="0.22" textLength="43.8" lengthAdjust="spacingAndGlyphs" >Non-significant</text>
<rect x="83.5" y="228.2" width="6.3" height="6.2" fill="#b3cc3a" />
<text x="92.7" y="234" font-size="7.1" fill="#2b2b2b" stroke="#2b2b2b" stroke-width="0.22" textLength="20.8" lengthAdjust="spacingAndGlyphs" >P&lt;0.05</text>
<rect x="119.6" y="228.2" width="6.6" height="6.2" fill="#d62a8a" />
<text x="129.2" y="234" font-size="7.1" fill="#2b2b2b" stroke="#2b2b2b" stroke-width="0.22" textLength="20.2" lengthAdjust="spacingAndGlyphs" >P&lt;0.01</text>
<rect x="23" y="240.4" width="6.2" height="6.2" fill="#c8743f" />
<text x="32.8" y="246.2" font-size="7.1" fill="#2b2b2b" stroke="#2b2b2b" stroke-width="0.22" textLength="23.4" lengthAdjust="spacingAndGlyphs" >P&lt;0.001</text>
<rect x="63.5" y="240.2" width="6.1" height="6.1" fill="#2f2a80" />
<text x="73" y="246.2" font-size="7.1" fill="#2b2b2b" stroke="#2b2b2b" stroke-width="0.22" textLength="27.4" lengthAdjust="spacingAndGlyphs" >P&lt;0.0001</text>
<rect x="31.6" y="281.8" width="80.4" height="72.19999999999999" fill="#473f86" />
<rect x="31.6" y="354" width="80.4" height="60.69999999999999" fill="#a071aa" />
<rect x="31.6" y="327.7" width="16.08" height="1.3" fill="#b23a3c" />
<rect x="31.6" y="331.5" width="16.08" height="1.2" fill="#a03a40" />
<rect x="31.6" y="332.7" width="16.08" height="1.1" fill="#c83a7a" />
<rect x="31.6" y="333.8" width="16.08" height="1.2" fill="#8a3a9a" />
<rect x="31.6" y="335.8" width="16.08" height="1.2" fill="#8a2a3a" />
<rect x="31.6" y="337.8" width="16.08" height="1.6" fill="#aac83a" />
<rect x="31.6" y="339.4" width="16.08" height="0.8" fill="#5a3a8a" />
<rect x="31.6" y="340.2" width="16.08" height="2.8" fill="#d6288a" />
<rect x="31.6" y="343" width="16.08" height="1.2" fill="#c07a98" />
<rect x="31.6" y="344.2" width="16.08" height="1.2" fill="#b03a9a" />
<rect x="31.6" y="345.4" width="16.08" height="1.1" fill="#4a2a7a" />
<rect x="31.6" y="346.5" width="16.08" height="2.3" fill="#b888c0" />
<rect x="31.6" y="348.8" width="16.08" height="1.4" fill="#aac83a" />
<rect x="31.6" y="350.2" width="16.08" height="3.8" fill="#a071aa" />
<rect x="31.6" y="408" width="16.08" height="0.9" fill="#b08aa8" />
<rect x="31.6" y="408.9" width="16.08" height="1.7" fill="#aac83a" />
<rect x="31.6" y="411.4" width="16.08" height="1.1" fill="#aac83a" />
<rect x="47.68" y="330.2" width="16.08" height="1.3" fill="#b23a3c" />
<rect x="47.68" y="332.7" width="16.08" height="1.5" fill="#8a2a4a" />
<rect x="47.68" y="334.2" width="16.08" height="1.2" fill="#c04a8a" />
<rect x="47.68" y="335.4" width="16.08" height="1.6" fill="#c078b0" />
<rect x="47.68" y="337" width="16.08" height="0.8" fill="#4f3a8c" />
<rect x="47.68" y="337.8" width="16.08" height="1.0" fill="#6a2050" />
<rect x="47.68" y="338.8" width="16.08" height="3.1" fill="#d6288a" />
<rect x="47.68" y="341.9" width="16.08" height="1.1" fill="#aac83a" />
<rect x="47.68" y="343" width="16.08" height="1.2" fill="#c08a90" />
<rect x="47.68" y="344.2" width="16.08" height="1.2" fill="#9a4aa8" />
<rect x="47.68" y="345.4" width="16.08" height="1.1" fill="#4f3a8c" />
<rect x="47.68" y="346.5" width="16.08" height="1.2" fill="#aac83a" />
<rect x="47.68" y="347.7" width="16.08" height="1.1" fill="#a050b0" />
<rect x="47.68" y="348.8" width="16.08" height="1.2" fill="#a071aa" />
<rect x="47.68" y="350" width="16.08" height="1.5" fill="#aac83a" />
<rect x="47.68" y="351.5" width="16.08" height="1.2" fill="#a071aa" />
<rect x="47.68" y="352.7" width="16.08" height="1.1" fill="#aac83a" />
<rect x="47.68" y="407.8" width="16.08" height="1.3" fill="#aac83a" />
<rect x="47.68" y="410" width="16.08" height="1.2" fill="#aac83a" />
<rect x="47.68" y="411.2" width="16.08" height="1.7" fill="#d6288a" />
<rect x="47.68" y="412.9" width="16.08" height="0.8" fill="#c09088" />
<rect x="63.76" y="329" width="16.08" height="0.8" fill="#6a3a7a" />
<rect x="63.76" y="332" width="16.08" height="1.9" fill="#b23a3c" />
<rect x="63.76" y="334.8" width="16.08" height="1.7" fill="#8a3a9a" />
<rect x="63.76" y="337.8" width="16.08" height="2.1" fill="#8a2a4a" />
<rect x="63.76" y="339.9" width="16.08" height="2.6" fill="#d6288a" />
<rect x="63.76" y="342.5" width="16.08" height="0.7" fill="#c07a98" />
<rect x="63.76" y="343.2" width="16.08" height="1.5" fill="#aac83a" />
<rect x="63.76" y="344.7" width="16.08" height="2.6" fill="#b89098" />
<rect x="63.76" y="347.3" width="16.08" height="0.7" fill="#4f3a8c" />
<rect x="63.76" y="348" width="16.08" height="1.9" fill="#aac83a" />
<rect x="63.76" y="349.9" width="16.08" height="1.5" fill="#c08aa8" />
<rect x="63.76" y="351.4" width="16.08" height="2.6" fill="#a071aa" />
<rect x="63.76" y="407.8" width="16.08" height="1.3" fill="#b08a98" />
<rect x="63.76" y="410" width="16.08" height="1.1" fill="#aac83a" />
<rect x="63.76" y="411.4" width="16.08" height="2.1" fill="#c8306a" />
<rect x="63.76" y="413.5" width="16.08" height="1.2" fill="#8a2a40" />
<rect x="79.84" y="332" width="16.08" height="1.8" fill="#b23a3c" />
<rect x="79.84" y="333.8" width="16.08" height="1.0" fill="#c09088" />
<rect x="79.84" y="334.8" width="16.08" height="1.7" fill="#7a3a9a" />
<rect x="79.84" y="337.8" width="16.08" height="1.5" fill="#c8287a" />
<rect x="79.84" y="339.3" width="16.08" height="2.8" fill="#e0268c" />
<rect x="79.84" y="342.1" width="16.08" height="2.2" fill="#c82a6a" />
<rect x="79.84" y="347.3" width="16.08" height="2.6" fill="#aac83a" />
<rect x="79.84" y="349.9" width="16.08" height="1.9" fill="#b890a8" />
<rect x="79.84" y="351.8" width="16.08" height="0.7" fill="#aac83a" />
<rect x="79.84" y="352.5" width="16.08" height="1.5" fill="#a071aa" />
<rect x="79.84" y="407.6" width="16.08" height="3.4" fill="#aac83a" />
<rect x="79.84" y="411" width="16.08" height="0.8" fill="#8a2a4a" />
<rect x="79.84" y="411.8" width="16.08" height="0.9" fill="#d6288a" />
<rect x="79.84" y="412.7" width="16.08" height="1.0" fill="#b0a060" />
<rect x="95.92" y="329" width="16.08" height="0.8" fill="#6a3a7a" />
<rect x="95.92" y="332" width="16.08" height="1.9" fill="#b23a3c" />
<rect x="95.92" y="333.9" width="16.08" height="1.9" fill="#7a3a8a" />
<rect x="95.92" y="335.8" width="16.08" height="1.1" fill="#4f3a8c" />
<rect x="95.92" y="339.9" width="16.08" height="1.1" fill="#c02a6a" />
<rect x="95.92" y="341" width="16.08" height="1.8" fill="#b02a60" />
<rect x="95.92" y="342.8" width="16.08" height="1.5" fill="#d6288a" />
<rect x="95.92" y="347.3" width="16.08" height="2.6" fill="#e0268c" />
<rect x="95.92" y="349.9" width="16.08" height="1.5" fill="#aac83a" />
<rect x="95.92" y="351.4" width="16.08" height="1.5" fill="#a8c040" />
<rect x="95.92" y="352.9" width="16.08" height="1.1" fill="#a071aa" />
<rect x="95.92" y="407.8" width="16.08" height="2.4" fill="#aac83a" />
<rect x="95.92" y="411.4" width="16.08" height="2.6" fill="#d6288a" />
<defs><pattern id="rowsE" x="0" y="0" width="10" height="2.2" patternUnits="userSpaceOnUse"><rect x="0" y="1.3" width="10" height="0.9" fill="#ffffff" opacity="0.05"/></pattern></defs>
<rect x="31.6" y="281.8" width="80.4" height="132.89999999999998" fill="url(#rowsE)" />
<line x1="47.68" y1="281.8" x2="47.68" y2="414.7" stroke="#000" stroke-width="0.5" opacity="0.05"/>
<line x1="63.76" y1="281.8" x2="63.76" y2="414.7" stroke="#000" stroke-width="0.5" opacity="0.05"/>
<line x1="79.84" y1="281.8" x2="79.84" y2="414.7" stroke="#000" stroke-width="0.5" opacity="0.05"/>
<line x1="95.92" y1="281.8" x2="95.92" y2="414.7" stroke="#000" stroke-width="0.5" opacity="0.05"/>
<text x="39.1" y="280.3" font-size="7.1" fill="#2b2b2b" stroke="#2b2b2b" stroke-width="0.22" transform="rotate(-45 39.1 280.3)" >HGG</text>
<text x="55.2" y="281.1" font-size="7.1" fill="#2b2b2b" stroke="#2b2b2b" stroke-width="0.22" transform="rotate(-45 55.2 281.1)" >IgGSD</text>
<text x="71.8" y="280.7" font-size="7.1" fill="#2b2b2b" stroke="#2b2b2b" stroke-width="0.22" transform="rotate(-45 71.8 280.7)" >SPAD</text>
<text x="87.9" y="280.6" font-size="7.1" fill="#2b2b2b" stroke="#2b2b2b" stroke-width="0.22" transform="rotate(-45 87.9 280.6)" >CVID</text>
<text x="103.3" y="281.1" font-size="6.9" fill="#2b2b2b" stroke="#2b2b2b" stroke-width="0.22" transform="rotate(-45 103.3 281.1)" >CVID PPV<tspan font-size="4.2" dy="-2.6">low</tspan></text>
<path d="M112.8,282.3 c1,0 1.7,0.5 1.7,1.7 V300.8 c0,0.8 0.6,1.2 1.8,1.2 c-1.2,0 -1.8,0.4 -1.8,1.2 V325 c0,1.2 -0.7,1.7 -1.7,1.7" stroke="#8c8c8c" stroke-width="0.85" fill="none" />
<path d="M112.8,327.6 c1,0 1.7,0.5 1.7,1.7 V332.2 c0,0.8 0.6,1.2 1.8,1.2 c-1.2,0 -1.8,0.4 -1.8,1.2 V338.2 c0,1.2 -0.7,1.7 -1.7,1.7" stroke="#8c8c8c" stroke-width="0.85" fill="none" />
<path d="M112.8,340.8 c1,0 1.7,0.5 1.7,1.7 V346.2 c0,0.8 0.6,1.2 1.8,1.2 c-1.2,0 -1.8,0.4 -1.8,1.2 V351.5 c0,1.2 -0.7,1.7 -1.7,1.7" stroke="#8c8c8c" stroke-width="0.85" fill="none" />
<path d="M112.8,354.1 c1,0 1.7,0.5 1.7,1.7 V375.90000000000003 c0,0.8 0.6,1.2 1.8,1.2 c-1.2,0 -1.8,0.4 -1.8,1.2 V403.8 c0,1.2 -0.7,1.7 -1.7,1.7" stroke="#8c8c8c" stroke-width="0.85" fill="none" />
<path d="M112.8,406.40000000000003 c1,0 1.7,0.5 1.7,1.7 V409.2 c0,0.8 0.6,1.2 1.8,1.2 c-1.2,0 -1.8,0.4 -1.8,1.2 V412.7 c0,1.2 -0.7,1.7 -1.7,1.7" stroke="#8c8c8c" stroke-width="0.85" fill="none" />
<text x="122" y="300.8" font-size="8.6" fill="#5b56a3" stroke="#5b56a3" stroke-width="0.22" textLength="28.6" lengthAdjust="spacingAndGlyphs" >Clique E</text>
<text x="128.1" y="309.4" font-size="8.6" fill="#5b56a3" stroke="#5b56a3" stroke-width="0.22" textLength="17" lengthAdjust="spacingAndGlyphs" >(212)</text>
<text x="120.3" y="328.7" font-size="8.6" fill="#a24a4e" stroke="#a24a4e" stroke-width="0.22" textLength="29.7" lengthAdjust="spacingAndGlyphs" >Clique D</text>
<text x="128.7" y="337.8" font-size="8.6" fill="#a24a4e" stroke="#a24a4e" stroke-width="0.22" textLength="12.6" lengthAdjust="spacingAndGlyphs" >(56)</text>
<text x="122.9" y="347.4" font-size="8.6" fill="#d63a8e" stroke="#d63a8e" stroke-width="0.22" textLength="29.8" lengthAdjust="spacingAndGlyphs" >Clique C</text>
<text x="130.8" y="357" font-size="8.6" fill="#d63a8e" stroke="#d63a8e" stroke-width="0.22" textLength="13.1" lengthAdjust="spacingAndGlyphs" >(63)</text>
<text x="122" y="374.5" font-size="8.6" fill="#b890c8" stroke="#b890c8" stroke-width="0.22" textLength="28.9" lengthAdjust="spacingAndGlyphs" >Clique B</text>
<text x="128.1" y="383.3" font-size="8.6" fill="#b890c8" stroke="#b890c8" stroke-width="0.22" textLength="17" lengthAdjust="spacingAndGlyphs" >(245)</text>
<text x="120.3" y="407.8" font-size="8.6" fill="#a6c64a" stroke="#a6c64a" stroke-width="0.22" textLength="29.7" lengthAdjust="spacingAndGlyphs" >Clique A</text>
<text x="128.7" y="416.9" font-size="8.6" fill="#a6c64a" stroke="#a6c64a" stroke-width="0.22" textLength="12.6" lengthAdjust="spacingAndGlyphs" >(34)</text>
<rect x="29.4" y="281.8" width="2.2" height="45.6" fill="#b6b1d8"/>
<rect x="29.4" y="327.4" width="2.2" height="87.3" fill="#dcd0e8"/>
<line x1="31.9" y1="281.8" x2="31.9" y2="414.7" stroke="#2a2270" stroke-width="0.5" opacity="0.5"/>
<rect x="24.6" y="351.5" width="3.6" height="21.5" fill="#eab0d4" />
<line x1="25.2" y1="352" x2="25.2" y2="373" stroke="#d880b8" stroke-width="0.5" />
<line x1="27.6" y1="352" x2="27.6" y2="373" stroke="#d880b8" stroke-width="0.5" />
<rect x="24.6" y="373" width="2.0" height="32" fill="#dccbe8" />
<line x1="27.2" y1="373" x2="27.2" y2="395" stroke="#a070c0" stroke-width="0.7" />
<line x1="27.2" y1="395" x2="27.2" y2="406" stroke="#c8b0dc" stroke-width="0.7" />
<polygon points="29.9,327.4 29.0,327.8 27.82,328.6 26.65,329.40000000000003 25.89,330.2 25.2,331.0 24.72,331.8 24.24,332.6 23.79,333.40000000000003 23.36,334.2 22.93,335.0 22.51,335.8 22.16,336.6 21.84,337.40000000000003 21.52,338.2 21.2,339.0 21.12,339.8 21.04,340.6 21.11,341.40000000000003 21.32,342.2 21.53,343.0 21.75,343.8 22.0,344.6 22.27,345.40000000000003 22.53,346.2 22.8,347.0 23.17,347.8 23.55,348.6 23.92,349.40000000000003 24.34,350.2 24.9,351.0 25.46,351.8 26.41,352.6 28,353.40000000000003 29.9,354" fill="#141414"/>
<line x1="25.89" y1="330.2" x2="29.9" y2="330.2" stroke="#a04048" stroke-width="0.5" />
<line x1="24.72" y1="331.8" x2="29.9" y2="331.8" stroke="#2a2a2a" stroke-width="0.5" />
<line x1="24.24" y1="332.6" x2="29.9" y2="332.6" stroke="#a04048" stroke-width="0.5" />
<line x1="22.93" y1="335.0" x2="29.9" y2="335.0" stroke="#555" stroke-width="0.5" />
<line x1="22.16" y1="336.6" x2="29.9" y2="336.6" stroke="#222" stroke-width="0.5" />
<line x1="21.84" y1="337.40000000000003" x2="29.9" y2="337.40000000000003" stroke="#666" stroke-width="0.5" />
<line x1="21.12" y1="339.8" x2="29.9" y2="339.8" stroke="#777" stroke-width="0.5" />
<line x1="21.32" y1="342.2" x2="29.9" y2="342.2" stroke="#444" stroke-width="0.5" />
<line x1="22.0" y1="344.6" x2="29.9" y2="344.6" stroke="#555" stroke-width="0.5" />
<line x1="22.8" y1="347.0" x2="29.9" y2="347.0" stroke="#333" stroke-width="0.5" />
<line x1="23.55" y1="348.6" x2="29.9" y2="348.6" stroke="#222" stroke-width="0.5" />
<line x1="24.34" y1="350.2" x2="29.9" y2="350.2" stroke="#444" stroke-width="0.5" />
<line x1="26.41" y1="352.6" x2="29.9" y2="352.6" stroke="#222" stroke-width="0.5" />
<line x1="23" y1="334.6" x2="25.5" y2="334.6" stroke="#ffffff" stroke-width="0.6" />
<line x1="21.8" y1="337.8" x2="24.5" y2="337.8" stroke="#ffffff" stroke-width="0.6" />
<line x1="21.2" y1="341.8" x2="23.5" y2="341.8" stroke="#ffffff" stroke-width="0.6" />
<line x1="22.4" y1="345.4" x2="25" y2="345.4" stroke="#ffffff" stroke-width="0.6" />
<line x1="23.6" y1="348.8" x2="26" y2="348.8" stroke="#ffffff" stroke-width="0.6" />
<text x="23.9" y="326.1" font-size="6.6" fill="#5b56a3" stroke="#5b56a3" stroke-width="0.25" >E</text>
<text x="14" y="333.9" font-size="6.9" fill="#a85a5a" stroke="#a85a5a" stroke-width="0.25" >D</text>
<text x="19" y="354.2" font-size="6.9" fill="#d63a8e" stroke="#d63a8e" stroke-width="0.25" >C</text>
<text x="19.1" y="383.4" font-size="6.6" fill="#b890c8" stroke="#b890c8" stroke-width="0.2" >B</text>
<text x="13.7" y="415.3" font-size="6.6" fill="#a6c64a" stroke="#a6c64a" stroke-width="0.2" >A</text>
<path d="M29.6,327.4 L27,329 L25,330.5 L23,332.5 L21,334 L19.5,336 L17.5,337.5 L15.5,339.5 L14.2,340.8" stroke="#5b56a3" stroke-width="0.7" fill="none" />
<path d="M28,330.2 L24,333 L21.5,335.5" stroke="#b05a5a" stroke-width="0.6" fill="none" />
<path d="M17.2,341.2 V346.6 H20.5 M22,343.2 Q19.5,343 19.6,345 Q19.8,346.8 22,346.5" stroke="#e060a8" stroke-width="0.65" fill="none" />
<path d="M14.2,340.8 V409.1 H19.6" stroke="#666" stroke-width="0.75" fill="none" />
<path d="M21.2,409 V385.4 H25 V405" stroke="#b7cf5a" stroke-width="0.7" fill="none" />
<path d="M20,404 V412.5 H23" stroke="#b7cf5a" stroke-width="0.7" fill="none" />
<path d="M25.8,407.4 H30 V414.5 H21.6 L23,412 H25.8 Z" fill="#151515"/>
<line x1="22" y1="410.8" x2="30" y2="410.8" stroke="#b7cf5a" stroke-width="0.5" />
<path d="M40.2,416.4 V427.7 H56.1 V416.4 M71.7,416.4 V427.7 H95.6 V424.2 M87.6,416.4 V424.2 H103.7 V416.4" stroke="#555" stroke-width="0.6" fill="none" />
<line x1="48.4" y1="427.7" x2="48.4" y2="429.8" stroke="#888" stroke-width="0.6" />
<line x1="84.7" y1="427.7" x2="84.7" y2="429.8" stroke="#888" stroke-width="0.6" />
<line x1="48.4" y1="429.8" x2="84.7" y2="429.8" stroke="#aaa" stroke-width="0.6" />
<text x="196.8" y="233" font-size="7" fill="#000" stroke="#000" stroke-width="0.22" font-weight="bold" textLength="64" lengthAdjust="spacingAndGlyphs" >Terminal structure</text>
<circle cx="199.5" cy="242.8" r="2.45" fill="#62ad46" stroke="#222" stroke-width="0.6"/>
<text x="204.8" y="245.4" font-size="7.6" fill="#3a3a3a" stroke="#3a3a3a" stroke-width="0.22" textLength="15.9" lengthAdjust="spacingAndGlyphs" >Gal&#946;</text>
<circle cx="229.1" cy="242.8" r="2.45" fill="#e38e1a" stroke="#222" stroke-width="0.6"/>
<text x="234.4" y="245.4" font-size="7.6" fill="#3a3a3a" stroke="#3a3a3a" stroke-width="0.22" textLength="24.3" lengthAdjust="spacingAndGlyphs" >(3S)Gal</text>
<circle cx="267.8" cy="242.8" r="2.45" fill="#b5c493" stroke="#222" stroke-width="0.6"/>
<text x="272.5" y="245.4" font-size="7.6" fill="#3a3a3a" stroke="#3a3a3a" stroke-width="0.22" textLength="12.6" lengthAdjust="spacingAndGlyphs" >Fuc</text>
<circle cx="293.7" cy="242.8" r="2.45" fill="#5b2372" stroke="#222" stroke-width="0.6"/>
<text x="299" y="245.4" font-size="7.6" fill="#3a3a3a" stroke="#3a3a3a" stroke-width="0.22" textLength="15.9" lengthAdjust="spacingAndGlyphs" >Gal&#945;</text>
<circle cx="323.8" cy="242.8" r="2.45" fill="#b0102e" stroke="#222" stroke-width="0.6"/>
<text x="329" y="245.4" font-size="7.6" fill="#3a3a3a" stroke="#3a3a3a" stroke-width="0.22" textLength="26.5" lengthAdjust="spacingAndGlyphs" >GalNAc</text>
<circle cx="364.1" cy="242.8" r="2.45" fill="#6aaee6" stroke="#222" stroke-width="0.6"/>
<text x="369.4" y="245.4" font-size="7.6" fill="#3a3a3a" stroke="#3a3a3a" stroke-width="0.22" textLength="12.1" lengthAdjust="spacingAndGlyphs" >Glc</text>
<circle cx="199.5" cy="256.8" r="2.45" fill="#9287c4" stroke="#222" stroke-width="0.6"/>
<text x="204.8" y="259.40000000000003" font-size="7.6" fill="#3a3a3a" stroke="#3a3a3a" stroke-width="0.22" textLength="26.4" lengthAdjust="spacingAndGlyphs" >GlcNAc</text>
<circle cx="240.3" cy="256.8" r="2.45" fill="#cc0c7e" stroke="#222" stroke-width="0.6"/>
<text x="245.4" y="259.40000000000003" font-size="7.6" fill="#3a3a3a" stroke="#3a3a3a" stroke-width="0.22" textLength="15.4" lengthAdjust="spacingAndGlyphs" >Man</text>
<circle cx="269.9" cy="256.8" r="2.45" fill="#9b9cab" stroke="#222" stroke-width="0.6"/>
<text x="274.6" y="259.40000000000003" font-size="7.6" fill="#3a3a3a" stroke="#3a3a3a" stroke-width="0.22" textLength="27.6" lengthAdjust="spacingAndGlyphs" >Neu5Ac</text>
<circle cx="311.3" cy="256.8" r="2.45" fill="#2b4b8a" stroke="#222" stroke-width="0.6"/>
<text x="316.4" y="259.40000000000003" font-size="7.6" fill="#3a3a3a" stroke="#3a3a3a" stroke-width="0.22" textLength="28.1" lengthAdjust="spacingAndGlyphs" >Neu5Gc</text>
<circle cx="352.9" cy="256.8" r="2.45" fill="#f0c020" stroke="#222" stroke-width="0.6"/>
<text x="358.2" y="259.40000000000003" font-size="7.6" fill="#3a3a3a" stroke="#3a3a3a" stroke-width="0.22" textLength="23.7" lengthAdjust="spacingAndGlyphs" >Others</text>
<text x="400.2" y="233.4" font-size="5.9" fill="#000" stroke="#000" stroke-width="0.22" font-weight="bold" textLength="16.8" lengthAdjust="spacingAndGlyphs" >Value</text>
<circle cx="407.3" cy="240.2" r="2.6" fill="none" stroke="#2a2a2a" stroke-width="0.75"/>
<text x="420.1" y="242.6" font-size="7" fill="#222" stroke="#222" stroke-width="0.22" >0</text>
<circle cx="407.3" cy="252.9" r="7.0" fill="none" stroke="#2a2a2a" stroke-width="0.75"/>
<text x="420.1" y="255.3" font-size="7" fill="#222" stroke="#222" stroke-width="0.22" >20</text>
<circle cx="407.3" cy="271.5" r="8.3" fill="none" stroke="#2a2a2a" stroke-width="0.75"/>
<text x="420.1" y="273.9" font-size="7" fill="#222" stroke="#222" stroke-width="0.22" >40</text>
<circle cx="407.3" cy="293.8" r="9.6" fill="none" stroke="#2a2a2a" stroke-width="0.75"/>
<text x="420.1" y="296.2" font-size="7" fill="#222" stroke="#222" stroke-width="0.22" >60</text>
<text x="209.1" y="300.8" font-size="6.4" fill="#000" stroke="#000" stroke-width="0.22" text-anchor="middle" font-weight="bold" textLength="25.8" lengthAdjust="spacingAndGlyphs" >Clique A</text>
<text x="209.1" y="308.5" font-size="6.3" fill="#555" stroke="#555" stroke-width="0.22" text-anchor="middle" textLength="49.2" lengthAdjust="spacingAndGlyphs" >(Mode: P &lt; 0.05)</text>
<text x="303.4" y="280.9" font-size="6.4" fill="#000" stroke="#000" stroke-width="0.22" text-anchor="middle" font-weight="bold" textLength="25.7" lengthAdjust="spacingAndGlyphs" >Clique B</text>
<text x="303.4" y="288.59999999999997" font-size="6.3" fill="#555" stroke="#555" stroke-width="0.22" text-anchor="middle" textLength="16.4" lengthAdjust="spacingAndGlyphs" >(N.S.)</text>
<text x="383.3" y="350.4" font-size="6.4" fill="#000" stroke="#000" stroke-width="0.22" text-anchor="middle" font-weight="bold" textLength="25.9" lengthAdjust="spacingAndGlyphs" >Clique C</text>
<text x="383.3" y="358.09999999999997" font-size="6.3" fill="#555" stroke="#555" stroke-width="0.22" text-anchor="middle" textLength="49.1" lengthAdjust="spacingAndGlyphs" ><tspan font-style="italic">(Mode: P</tspan> &lt; 0.01)</text>
<text x="203.1" y="385.8" font-size="6.4" fill="#000" stroke="#000" stroke-width="0.22" text-anchor="middle" font-weight="bold" textLength="26.2" lengthAdjust="spacingAndGlyphs" >Clique D</text>
<text x="203.1" y="393.5" font-size="6.3" fill="#555" stroke="#555" stroke-width="0.22" text-anchor="middle" textLength="56.2" lengthAdjust="spacingAndGlyphs" ><tspan font-style="italic">(Mode: P</tspan> &lt; 0.0001)</text>
<text x="281.5" y="372.9" font-size="6.4" fill="#000" stroke="#000" stroke-width="0.22" text-anchor="middle" font-weight="bold" textLength="25.4" lengthAdjust="spacingAndGlyphs" >Clique E</text>
<text x="281.5" y="380.59999999999997" font-size="6.3" fill="#555" stroke="#555" stroke-width="0.22" text-anchor="middle" textLength="34.7" lengthAdjust="spacingAndGlyphs" ><tspan font-style="italic">(P</tspan> &lt; 0.0001)</text>
<circle cx="198.1" cy="320.2" r="5.0" fill="#2b4b8a" stroke="#1c1c1c" stroke-width="0.8"/>
<circle cx="208.7" cy="316.7" r="2.45" fill="#b0102e" stroke="#1c1c1c" stroke-width="0.8"/>
<circle cx="220.5" cy="315.7" r="4.55" fill="#5b2372" stroke="#1c1c1c" stroke-width="0.8"/>
<circle cx="206.8" cy="323.7" r="4.2" fill="#9287c4" stroke="#1c1c1c" stroke-width="0.8"/>
<circle cx="216.0" cy="323.6" r="4.4" fill="#9b9cab" stroke="#1c1c1c" stroke-width="0.8"/>
<circle cx="197.4" cy="328.3" r="5.1" fill="#f0c020" stroke="#1c1c1c" stroke-width="0.8"/>
<circle cx="216.0" cy="330.9" r="3.9" fill="#e38e1a" stroke="#1c1c1c" stroke-width="0.8"/>
<circle cx="204.0" cy="338.4" r="5.25" fill="#b5c493" stroke="#1c1c1c" stroke-width="0.8"/>
<circle cx="205.9" cy="333.4" r="2.2" fill="#6aaee6" stroke="#1c1c1c" stroke-width="0.8"/>
<circle cx="212.5" cy="334.2" r="4.4" fill="#62ad46" stroke="#1c1c1c" stroke-width="0.8"/>
<circle cx="213.4" cy="342.8" r="4.4" fill="#cc0c7e" stroke="#1c1c1c" stroke-width="0.8"/>
<circle cx="291.9" cy="316.8" r="8.7" fill="#2b4b8a" stroke="#1c1c1c" stroke-width="0.8"/>
<circle cx="292.9" cy="306.1" r="8.0" fill="#62ad46" stroke="#1c1c1c" stroke-width="0.8"/>
<circle cx="294.9" cy="297.7" r="3.8" fill="#5b2372" stroke="#1c1c1c" stroke-width="0.8"/>
<circle cx="311.3" cy="315.3" r="8.4" fill="#9287c4" stroke="#1c1c1c" stroke-width="0.8"/>
<circle cx="284.7" cy="327.6" r="6.6" fill="#b0102e" stroke="#1c1c1c" stroke-width="0.8"/>
<circle cx="324.8" cy="326.8" r="9.5" fill="#e38e1a" stroke="#1c1c1c" stroke-width="0.8"/>
<circle cx="305.7" cy="332.6" r="9.2" fill="#6aaee6" stroke="#1c1c1c" stroke-width="0.8"/>
<circle cx="301.8" cy="322.7" r="7.7" fill="#f0c020" stroke="#1c1c1c" stroke-width="0.8"/>
<circle cx="290.3" cy="340.3" r="8.0" fill="#b5c493" stroke="#1c1c1c" stroke-width="0.8"/>
<circle cx="303.4" cy="349.0" r="9.2" fill="#cc0c7e" stroke="#1c1c1c" stroke-width="0.8"/>
<circle cx="317.2" cy="342.1" r="9.2" fill="#9b9cab" stroke="#1c1c1c" stroke-width="0.8"/>
<circle cx="376.0" cy="368.5" r="4.4" fill="#b0102e" stroke="#1c1c1c" stroke-width="0.8"/>
<circle cx="390.0" cy="369.8" r="4.4" fill="#9287c4" stroke="#1c1c1c" stroke-width="0.8"/>
<circle cx="400.7" cy="379.9" r="5.1" fill="#f0c020" stroke="#1c1c1c" stroke-width="0.8"/>
<circle cx="366.6" cy="384.9" r="5.7" fill="#5b2372" stroke="#1c1c1c" stroke-width="0.8"/>
<circle cx="383.4" cy="387.3" r="5.7" fill="#b5c493" stroke="#1c1c1c" stroke-width="0.8"/>
<circle cx="381.4" cy="384.9" r="2.3" fill="#6aaee6" stroke="#1c1c1c" stroke-width="0.8"/>
<circle cx="394.4" cy="386.6" r="5.0" fill="#9b9cab" stroke="#1c1c1c" stroke-width="0.8"/>
<circle cx="375.6" cy="393.4" r="5.0" fill="#2b4b8a" stroke="#1c1c1c" stroke-width="0.8"/>
<circle cx="394.1" cy="396.7" r="6.3" fill="#e38e1a" stroke="#1c1c1c" stroke-width="0.8"/>
<circle cx="382.7" cy="401.2" r="5.8" fill="#62ad46" stroke="#1c1c1c" stroke-width="0.8"/>
<circle cx="391.7" cy="403.2" r="5.4" fill="#cc0c7e" stroke="#1c1c1c" stroke-width="0.8"/>
<circle cx="177.2" cy="425.1" r="5.4" fill="#62ad46" stroke="#1c1c1c" stroke-width="0.8"/>
<circle cx="181.5" cy="415.4" r="5.8" fill="#2b4b8a" stroke="#1c1c1c" stroke-width="0.8"/>
<circle cx="187.7" cy="406.9" r="5.1" fill="#b0102e" stroke="#1c1c1c" stroke-width="0.8"/>
<circle cx="199.7" cy="407.4" r="4.6" fill="#9287c4" stroke="#1c1c1c" stroke-width="0.8"/>
<circle cx="195.8" cy="411.5" r="4.6" fill="#f0c020" stroke="#1c1c1c" stroke-width="0.8"/>
<circle cx="205.8" cy="412.3" r="5.1" fill="#b5c493" stroke="#1c1c1c" stroke-width="0.8"/>
<circle cx="211.2" cy="406.6" r="5.4" fill="#9b9cab" stroke="#1c1c1c" stroke-width="0.8"/>
<circle cx="215.1" cy="402.8" r="2.3" fill="#6aaee6" stroke="#1c1c1c" stroke-width="0.8"/>
<circle cx="222.0" cy="408.8" r="5.1" fill="#5b2372" stroke="#1c1c1c" stroke-width="0.8"/>
<circle cx="215.1" cy="416.2" r="5.1" fill="#e38e1a" stroke="#1c1c1c" stroke-width="0.8"/>
<circle cx="278.9" cy="399.7" r="6.8" fill="#62ad46" stroke="#1c1c1c" stroke-width="0.8"/>
<circle cx="293.1" cy="395.7" r="9.7" fill="#5b2372" stroke="#1c1c1c" stroke-width="0.8"/>
<circle cx="273.2" cy="413.0" r="7.8" fill="#f0c020" stroke="#1c1c1c" stroke-width="0.8"/>
<circle cx="282.7" cy="418.0" r="7.8" fill="#9287c4" stroke="#1c1c1c" stroke-width="0.8"/>
<circle cx="294.8" cy="414.2" r="5.4" fill="#e38e1a" stroke="#1c1c1c" stroke-width="0.8"/>
<circle cx="293.7" cy="431.9" r="5.7" fill="#b5c493" stroke="#1c1c1c" stroke-width="0.8"/>
<circle cx="288.4" cy="423.7" r="6.0" fill="#9b9cab" stroke="#1c1c1c" stroke-width="0.8"/>
<circle cx="265.0" cy="427.7" r="5.0" fill="#2b4b8a" stroke="#1c1c1c" stroke-width="0.8"/>
<circle cx="270.6" cy="434.1" r="8.5" fill="#6aaee6" stroke="#1c1c1c" stroke-width="0.8"/>
<circle cx="283.4" cy="441.9" r="9.2" fill="#b0102e" stroke="#1c1c1c" stroke-width="0.8"/>
<circle cx="310.5" cy="431.9" r="5.7" fill="#cc0c7e" stroke="#1c1c1c" stroke-width="0.8"/>
<text x="292.6" y="398.1" font-size="6.0" fill="#fff" text-anchor="middle" font-weight="bold" textLength="16.4" lengthAdjust="spacingAndGlyphs" >70.9%</text>
<text x="283.8" y="445.5" font-size="6.0" fill="#fff" text-anchor="middle" font-weight="bold" textLength="17.4" lengthAdjust="spacingAndGlyphs" >62.9%</text>
<rect x="0.5" y="0.5" width="519" height="456" fill="none" stroke="#000" stroke-width="1"/>
</svg></div>
</body></html>
